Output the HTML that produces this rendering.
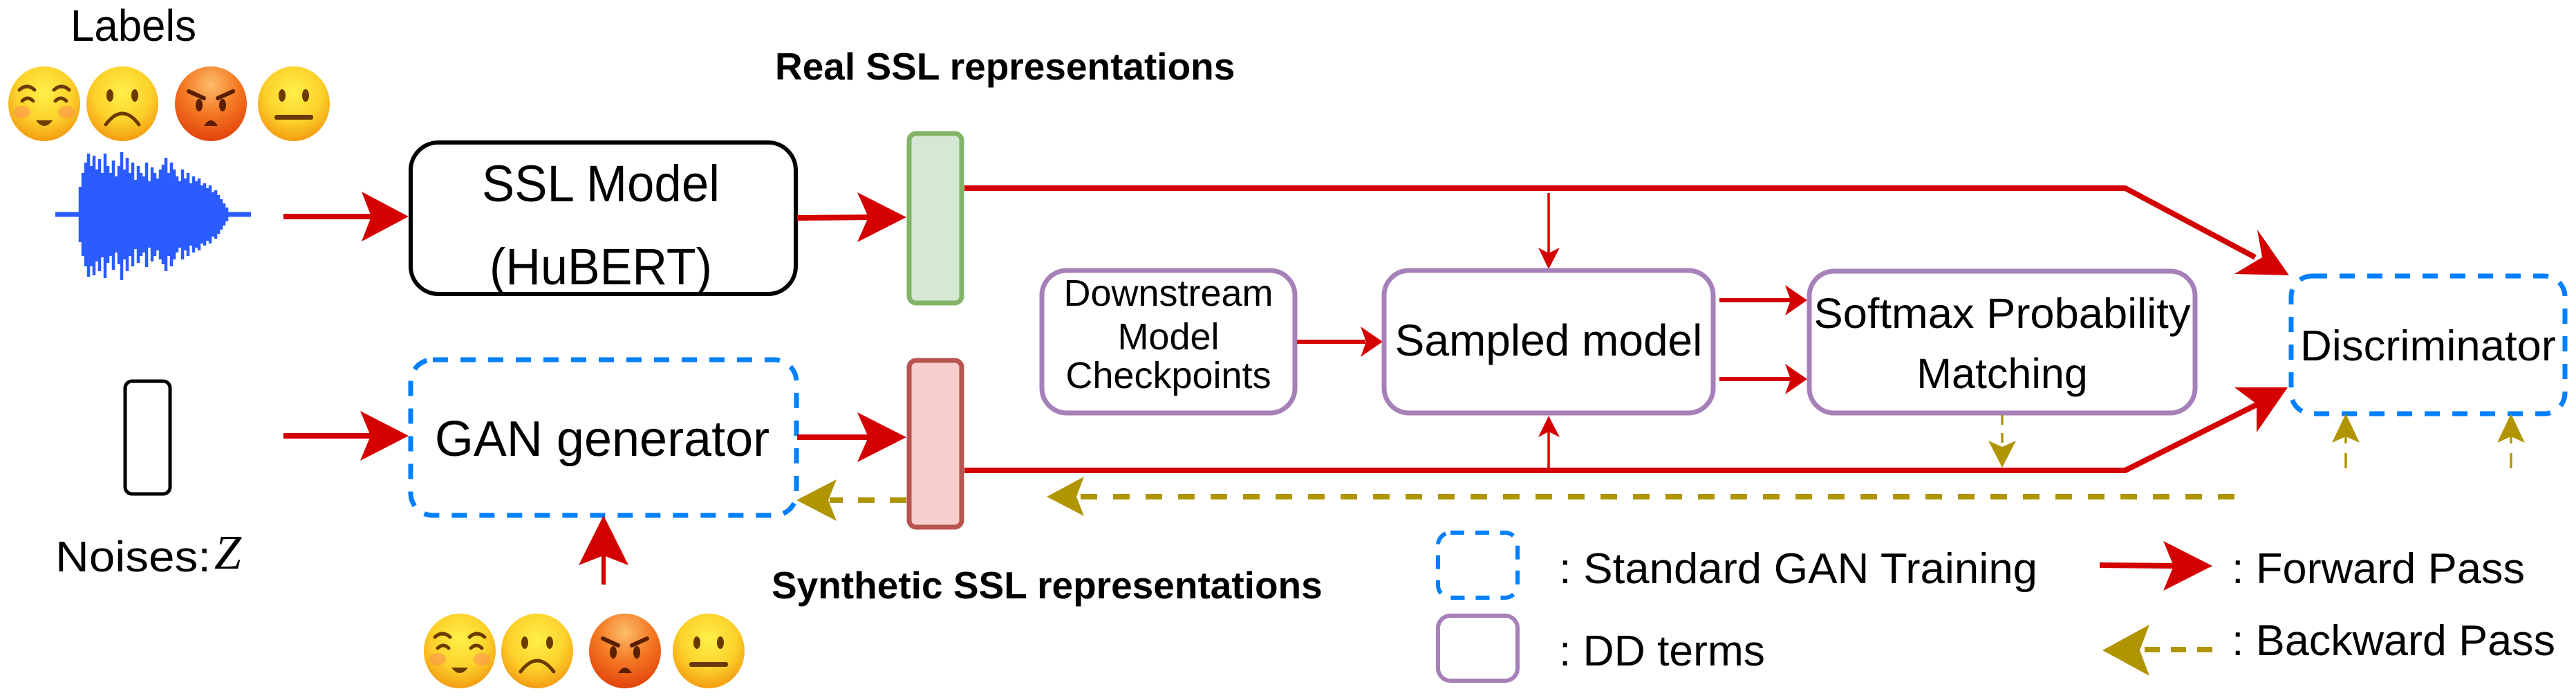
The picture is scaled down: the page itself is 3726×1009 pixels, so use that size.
<!DOCTYPE html>
<html><head><meta charset="utf-8"><style>
html,body{margin:0;padding:0;background:#fff;width:3726px;height:1009px;overflow:hidden}
svg{display:block}
text{font-family:"Liberation Sans",Arial,sans-serif;fill:#000}
</style></head><body>
<svg width="3726" height="1009" viewBox="0 0 3726 1009" xmlns="http://www.w3.org/2000/svg">
<defs>
<radialGradient id="gy" cx="50%" cy="35%" r="65%"><stop offset="0" stop-color="#fff04a"/><stop offset="0.6" stop-color="#fcd12a"/><stop offset="1" stop-color="#f39c12"/></radialGradient>
<radialGradient id="go" cx="50%" cy="25%" r="75%"><stop offset="0" stop-color="#fdbd6a"/><stop offset="0.5" stop-color="#f47a24"/><stop offset="1" stop-color="#e3440c"/></radialGradient>
<g id="e1"><ellipse rx="52" ry="54" fill="url(#gy)"/><ellipse cx="-32" cy="12" rx="12" ry="9" fill="#ff8a5a" opacity="0.5"/><ellipse cx="32" cy="12" rx="12" ry="9" fill="#ff8a5a" opacity="0.5"/><path d="M-36,-20 Q-25,-30 -14,-20 M14,-20 Q25,-30 36,-20 M-32,-4 Q-24,-12 -16,-4 M16,-4 Q24,-12 32,-4" stroke="#6b3a00" stroke-width="5" fill="none" stroke-linecap="round"/><path d="M-12,24 Q0,40 12,24 Z" fill="#6b3a00"/></g>
<g id="e2"><ellipse rx="52" ry="54" fill="url(#gy)"/><ellipse cx="-18" cy="-12" rx="5" ry="9" fill="#6b3a00"/><ellipse cx="18" cy="-12" rx="5" ry="9" fill="#6b3a00"/><path d="M-24,30 Q0,-2 24,30" stroke="#6b3a00" stroke-width="5" fill="none" stroke-linecap="round"/></g>
<g id="e3"><ellipse rx="52" ry="54" fill="url(#go)"/><path d="M-32,-18 L-10,-8 M32,-18 L10,-8" stroke="#5a1e00" stroke-width="6" stroke-linecap="round"/><ellipse cx="-17" cy="2" rx="5" ry="9" fill="#5a1e00"/><ellipse cx="17" cy="2" rx="5" ry="9" fill="#5a1e00"/><path d="M-10,32 Q0,16 10,32 Z" fill="#5a1e00"/></g>
<g id="e4"><ellipse rx="52" ry="54" fill="url(#gy)"/><ellipse cx="-17" cy="-12" rx="5" ry="9" fill="#6b3a00"/><ellipse cx="17" cy="-12" rx="5" ry="9" fill="#6b3a00"/><rect x="-28" y="16" width="56" height="7" rx="3" fill="#6b3a00"/></g>
</defs>

<text x="102" y="59" font-size="64" textLength="182" lengthAdjust="spacingAndGlyphs">Labels</text>
<use href="#e1" x="64" y="150"/><use href="#e2" x="177" y="150"/><use href="#e3" x="305" y="150"/><use href="#e4" x="425" y="150"/>

<!-- waveform -->
<g stroke="#2a5cff" stroke-width="4.5" fill="none">
<line x1="80" y1="310" x2="363" y2="310" stroke-width="7"/>
<path d="M116,270V350 M120,250V370 M124,235V385 M128,222V400 M132,240V385 M136,225V398 M140,245V378 M144,230V392 M148,250V372 M152,222V402 M156,240V380 M160,250V370 M164,232V390 M168,255V365 M172,240V382 M176,220V405 M180,245V375 M184,228V392 M188,250V370 M192,235V385 M196,260V360 M200,240V380 M204,250V370 M208,255V365 M212,235V386 M216,262V358 M220,242V378 M224,250V370 M228,258V362 M232,245V375 M236,238V382 M240,228V392 M244,250V370 M248,235V385 M252,245V375 M256,255V365 M260,262V358 M264,245V375 M268,258V362 M272,250V370 M276,265V355 M280,255V365 M284,262V358 M288,258V362 M292,268V352 M296,265V355 M300,272V348 M304,268V352 M308,278V342 M312,275V345 M316,282V338 M320,288V332 M324,294V326 M328,300V320"/>
</g>

<line x1="410" y1="313" x2="545" y2="313" stroke="#d40000" stroke-width="8"/>
<polygon points="591,313 523,277 537,313 523,349" fill="#d40000"/>

<rect x="594" y="206" width="557" height="219" rx="40" fill="#fff" stroke="#000" stroke-width="6"/>
<text x="697" y="291" font-size="74" textLength="344" lengthAdjust="spacingAndGlyphs">SSL Model</text>
<text x="708" y="411" font-size="74" textLength="322" lengthAdjust="spacingAndGlyphs">(HuBERT)</text>

<line x1="1153" y1="315" x2="1265" y2="314" stroke="#d40000" stroke-width="8"/>
<polygon points="1311,314 1240,278 1256,314 1240,350" fill="#d40000"/>

<text x="1121" y="115" font-size="55" font-weight="bold">Real SSL representations</text>

<rect x="1315" y="193" width="76" height="245" rx="10" fill="#d5e8d4" stroke="#82b366" stroke-width="7"/>

<polyline points="1395,272 3074,272 3262,372" fill="none" stroke="#d40000" stroke-width="8"/>
<polygon points="3311,398 3265,332 3272,372 3232,396" fill="#d40000"/>

<line x1="2240" y1="279" x2="2240" y2="370" stroke="#d40000" stroke-width="3.5"/>
<polygon points="2240,389 2225,358 2240,366 2256,358" fill="#d40000"/>

<rect x="181" y="551" width="65" height="163" rx="10" fill="#fff" stroke="#000" stroke-width="5"/>
<text x="80" y="826" font-size="62" textLength="225" lengthAdjust="spacingAndGlyphs">Noises:</text>
<text x="310" y="822" font-size="70" font-style="italic" style="font-family:'Liberation Serif',serif">Z</text>

<line x1="410" y1="630" x2="545" y2="630" stroke="#d40000" stroke-width="8"/>
<polygon points="591,630 521,594 536,630 521,666" fill="#d40000"/>

<rect x="594" y="520" width="558" height="225" rx="32" fill="none" stroke="#007fff" stroke-width="7" stroke-dasharray="22 18"/>
<text x="871" y="659" font-size="72" text-anchor="middle">GAN generator</text>

<line x1="1153" y1="632" x2="1265" y2="632" stroke="#d40000" stroke-width="8"/>
<polygon points="1311,632 1240,596 1256,632 1240,668" fill="#d40000"/>

<rect x="1315" y="521" width="76" height="241" rx="10" fill="#f8cecc" stroke="#b85450" stroke-width="7"/>

<line x1="1311" y1="723" x2="1200" y2="723" stroke="#b09500" stroke-width="8" stroke-dasharray="24 22"/>
<polygon points="1152,723 1210,693 1198,723 1210,753" fill="#b09500"/>

<line x1="873" y1="845" x2="873" y2="800" stroke="#d40000" stroke-width="6"/>
<polygon points="873,745 837,817 873,803 909,817" fill="#d40000"/>

<text x="1116" y="865" font-size="55" font-weight="bold">Synthetic SSL representations</text>

<use href="#e1" x="665" y="941"/><use href="#e2" x="777" y="941"/><use href="#e3" x="904" y="941"/><use href="#e4" x="1025" y="941"/>

<polyline points="1395,680 3074,680 3266,584" fill="none" stroke="#d40000" stroke-width="8"/>
<polygon points="3309,560 3232,560 3264,584 3264,625" fill="#d40000"/>

<line x1="2240" y1="680" x2="2240" y2="620" stroke="#d40000" stroke-width="3.5"/>
<polygon points="2240,601 2225,632 2240,624 2256,632" fill="#d40000"/>

<line x1="3232" y1="718" x2="1560" y2="718" stroke="#b09500" stroke-width="8" stroke-dasharray="24 23"/>
<polygon points="1514,718 1568,689 1557,718 1568,746" fill="#b09500"/>

<rect x="1507" y="391" width="366" height="206" rx="36" fill="#fff" stroke="#a680b8" stroke-width="7"/>
<text x="1690" y="442" font-size="54" text-anchor="middle">Downstream</text>
<text x="1690" y="505" font-size="54" text-anchor="middle">Model</text>
<text x="1690" y="561" font-size="54" text-anchor="middle">Checkpoints</text>

<line x1="1876" y1="494" x2="1975" y2="494" stroke="#d40000" stroke-width="6"/>
<polygon points="2000,494 1968,472 1976,494 1968,516" fill="#d40000"/>

<rect x="2002" y="391" width="476" height="206" rx="36" fill="#fff" stroke="#a680b8" stroke-width="7"/>
<text x="2240" y="514" font-size="64" text-anchor="middle">Sampled model</text>

<line x1="2487" y1="434" x2="2590" y2="434" stroke="#d40000" stroke-width="6"/>
<polygon points="2614,434 2582,412 2590,434 2582,456" fill="#d40000"/>
<line x1="2487" y1="548" x2="2590" y2="548" stroke="#d40000" stroke-width="6"/>
<polygon points="2614,548 2582,526 2590,548 2582,570" fill="#d40000"/>

<rect x="2617" y="392" width="558" height="205" rx="36" fill="#fff" stroke="#a680b8" stroke-width="7"/>
<text x="2896" y="474" font-size="61" text-anchor="middle" textLength="545" lengthAdjust="spacingAndGlyphs">Softmax Probability</text>
<text x="2896" y="561" font-size="61" text-anchor="middle">Matching</text>

<line x1="2896" y1="600" x2="2896" y2="645" stroke="#b09500" stroke-width="3.5" stroke-dasharray="14 12"/>
<polygon points="2896,676 2876,637 2896,646 2916,637" fill="#b09500"/>

<rect x="3314" y="399" width="396" height="199" rx="30" fill="none" stroke="#007fff" stroke-width="7" stroke-dasharray="22 18"/>
<text x="3512" y="521" font-size="62" text-anchor="middle" textLength="370" lengthAdjust="spacingAndGlyphs">Discriminator</text>

<g stroke="#b09500" stroke-width="3.5" stroke-dasharray="22 14">
<line x1="3393" y1="677" x2="3393" y2="630"/><line x1="3632" y1="677" x2="3632" y2="630"/>
</g>
<polygon points="3393,598 3373,640 3393,631 3413,640" fill="#b09500"/>
<polygon points="3632,598 3612,640 3632,631 3652,640" fill="#b09500"/>

<rect x="2080" y="770" width="115" height="94" rx="18" fill="none" stroke="#007fff" stroke-width="6" stroke-dasharray="20 16"/>
<text x="2255" y="843" font-size="62" textLength="692" lengthAdjust="spacingAndGlyphs">: Standard GAN Training</text>
<rect x="2080" y="890" width="115" height="94" rx="18" fill="#fff" stroke="#a680b8" stroke-width="6"/>
<text x="2255" y="962" font-size="62" textLength="298" lengthAdjust="spacingAndGlyphs">: DD terms</text>

<line x1="3037" y1="817" x2="3150" y2="818" stroke="#d40000" stroke-width="8"/>
<polygon points="3200,818 3129,782 3144,818 3129,854" fill="#d40000"/>
<text x="3228" y="843" font-size="62" textLength="424" lengthAdjust="spacingAndGlyphs">: Forward Pass</text>

<line x1="3200" y1="939" x2="3090" y2="939" stroke="#b09500" stroke-width="8" stroke-dasharray="22 16"/>
<polygon points="3041,940 3109,903 3095,940 3109,977" fill="#b09500"/>
<text x="3228" y="947" font-size="62" textLength="468" lengthAdjust="spacingAndGlyphs">: Backward Pass</text>
</svg>
</body></html>
